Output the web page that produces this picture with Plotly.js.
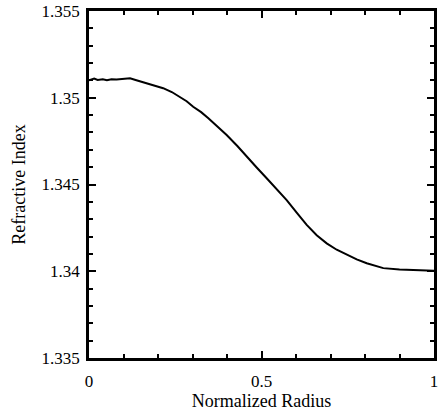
<!DOCTYPE html>
<html><head><meta charset="utf-8">
<script src="https://cdn.plot.ly/plotly-3.0.1.min.js"></script>
<style>html,body{margin:0;padding:0;background:#fff}#plot{width:444px;height:414px}</style>
</head><body><div id="plot"></div>
<script>
const radius = [0, 0.015, 0.025, 0.04, 0.052, 0.065, 0.08, 0.1, 0.119, 0.135, 0.15, 0.167, 0.19, 0.215, 0.24, 0.264, 0.283, 0.302, 0.325, 0.346, 0.37, 0.399, 0.43, 0.457, 0.486, 0.515, 0.544, 0.573, 0.602, 0.631, 0.66, 0.689, 0.718, 0.747, 0.776, 0.805, 0.83, 0.853, 0.9, 0.94, 1.0];
const refIndex = [1.35100, 1.35110, 1.35102, 1.35106, 1.35101, 1.35106, 1.35105, 1.35109, 1.35112, 1.35102, 1.35094, 1.35083, 1.35072, 1.35055, 1.35033, 1.35006, 1.34980, 1.34948, 1.34917, 1.34882, 1.34838, 1.34785, 1.34722, 1.34660, 1.34598, 1.34536, 1.34475, 1.34410, 1.34338, 1.34267, 1.34208, 1.34161, 1.34124, 1.34094, 1.34068, 1.34046, 1.34030, 1.34018, 1.34010, 1.34006, 1.34003];
const yTickVals = [1.335, 1.34, 1.345, 1.35, 1.355];
const yTickText = ["1.335", "1.34", "1.345", "1.35", "1.355"];
const xTickVals = [0, 0.5, 1];
const xTickText = ["0", "0.5", "1"];
function mkFont(s) { return {family: "Times New Roman", size: s, color: "#000"}; }
function draw() {
  Plotly.newPlot("plot", [{x: radius, y: refIndex, type: "scatter", mode: "lines", line: {color: "#000", width: 2}}], {
    width: 444, height: 414, margin: {l: 89, r: 10, t: 11, b: 56}, showlegend: false, font: mkFont(17),
    xaxis: {showline: true, linecolor: "#000", linewidth: 2.5, mirror: "allticks", ticks: "inside", ticklen: 7, tickwidth: 2, tickcolor: "#000",
      range: [0, 1], tickmode: "array", tickvals: xTickVals, ticktext: xTickText, showgrid: false, zeroline: false,
      ticklabelstandoff: 6,
      minor: {dtick: 0.1, ticks: "inside", ticklen: 4, tickcolor: "#000"},
      title: {text: "Normalized Radius", font: mkFont(18), standoff: 4}},
    yaxis: {showline: true, linecolor: "#000", linewidth: 2.5, mirror: "allticks", ticks: "inside", ticklen: 7, tickwidth: 2, tickcolor: "#000",
      range: [1.335, 1.355], tickmode: "array", tickvals: yTickVals, ticktext: yTickText, showgrid: false, zeroline: false,
      ticklabelstandoff: 3,
      minor: {dtick: 0.001, ticks: "inside", ticklen: 4, tickcolor: "#000"},
      title: {text: "Refractive Index", font: mkFont(18), standoff: 12}}
  }, {displayModeBar: false});
}
if (document.fonts && document.fonts.load) {
  document.fonts.load('17px "Times New Roman"').then(draw, draw);
} else { draw(); }
</script></body></html>
